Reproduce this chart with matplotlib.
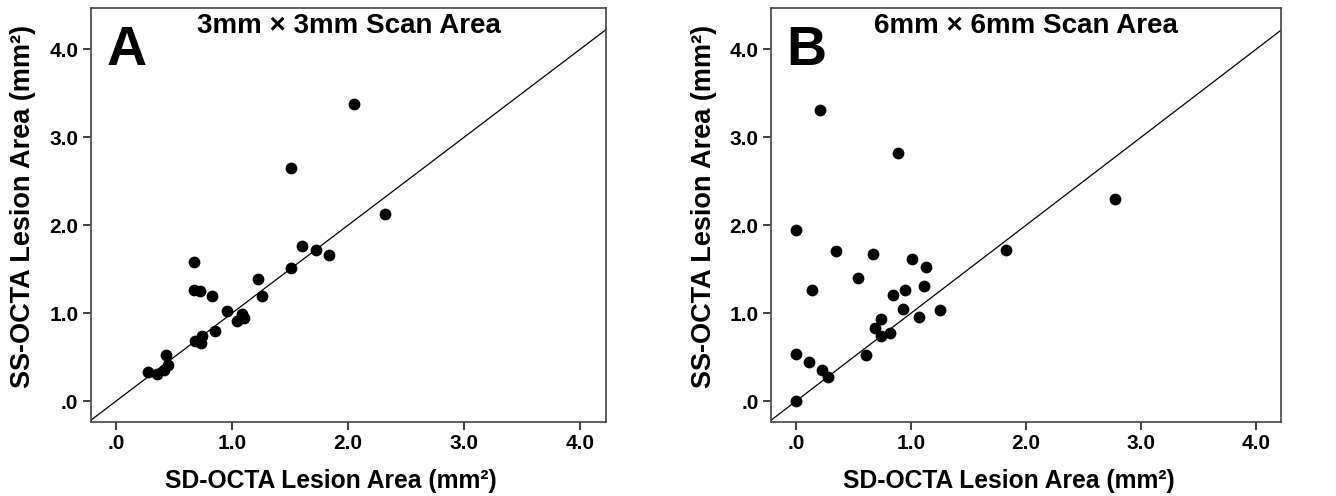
import matplotlib
matplotlib.use('Agg')
import matplotlib.pyplot as plt

plt.rcParams['font.family'] = ['Liberation Sans', 'DejaVu Sans']
plt.rcParams['font.weight'] = 'bold'

# panel A: 3mm x 3mm scan area
sd_3mm = [0.28, 0.35, 0.41, 0.45, 0.43, 0.67, 0.67, 0.72, 0.83, 0.68, 0.73, 0.74,
          0.85, 0.96, 1.04, 1.09, 1.10, 1.22, 1.26, 1.51, 1.51, 1.60, 1.72, 1.84,
          2.05, 2.32]
ss_3mm = [0.33, 0.31, 0.35, 0.41, 0.53, 1.58, 1.26, 1.25, 1.20, 0.68, 0.66, 0.74,
          0.80, 1.03, 0.91, 0.99, 0.94, 1.39, 1.19, 1.51, 2.65, 1.76, 1.72, 1.66,
          3.38, 2.13]

# panel B: 6mm x 6mm scan area
sd_6mm = [0.21, 0.89, 2.77, 0.0, 0.35, 0.67, 1.01, 1.13, 1.83, 0.54, 0.14, 1.11,
          0.84, 0.95, 0.93, 1.25, 1.07, 0.74, 0.69, 0.74, 0.82, 0.61, 0.0, 0.11,
          0.23, 0.28, 0.0]
ss_6mm = [3.31, 2.82, 2.30, 1.95, 1.71, 1.67, 1.62, 1.52, 1.72, 1.40, 1.26, 1.31,
          1.21, 1.26, 1.05, 1.04, 0.96, 0.93, 0.83, 0.74, 0.78, 0.53, 0.54, 0.44,
          0.35, 0.28, 0.0]

tick_values = [0, 1, 2, 3, 4]
tick_labels = ['.0', '1.0', '2.0', '3.0', '4.0']

panels = [
    ('A', '3mm \u00d7 3mm Scan Area', sd_3mm, ss_3mm, [0.0681, 0.1492, 0.3855, 0.8347], (-0.2155, 4.224)),
    ('B', '6mm \u00d7 6mm Scan Area', sd_6mm, ss_6mm, [0.5771, 0.1492, 0.3817, 0.8347], (-0.217, 4.217)),
]

fig = plt.figure(figsize=(13.36, 4.96), dpi=100)

for letter, title, x, y, pos, xlim in panels:
    ax = fig.add_axes(pos)
    ax.scatter(x, y, s=72, color='black', zorder=3, linewidths=0)
    ax.axline((0, 0), slope=1, color='black', linewidth=0.9, zorder=2)
    ax.set_xlim(xlim)
    ax.set_ylim(-0.237, 4.47)

    ax.set_xticks(tick_values)
    ax.set_xticklabels(tick_labels)
    ax.set_yticks(tick_values)
    ax.set_yticklabels(tick_labels)
    ax.tick_params(direction='out', length=6, width=1.3, color='#333333',
                   labelsize=15, pad=3)
    for spine in ax.spines.values():
        spine.set_color('#444444')
        spine.set_linewidth(1.2)

    ax.set_xlabel('SD-OCTA Lesion Area (mm\u00b2)', fontsize=17.7, fontweight='bold')
    ax.set_ylabel('SS-OCTA Lesion Area (mm\u00b2)', fontsize=19.5, fontweight='bold')
    ax.xaxis.set_label_coords(0.466, -0.113)
    ax.yaxis.set_label_coords(-0.106, 0.52)

    ax.text(0.5, 0.94, title, transform=ax.transAxes, ha='center', va='baseline',
            fontsize=20, fontweight='bold')
    ax.text(0.03, 0.862, letter, transform=ax.transAxes, ha='left', va='baseline',
            fontsize=40, fontweight='bold')

fig.savefig('out.png', dpi=100)
